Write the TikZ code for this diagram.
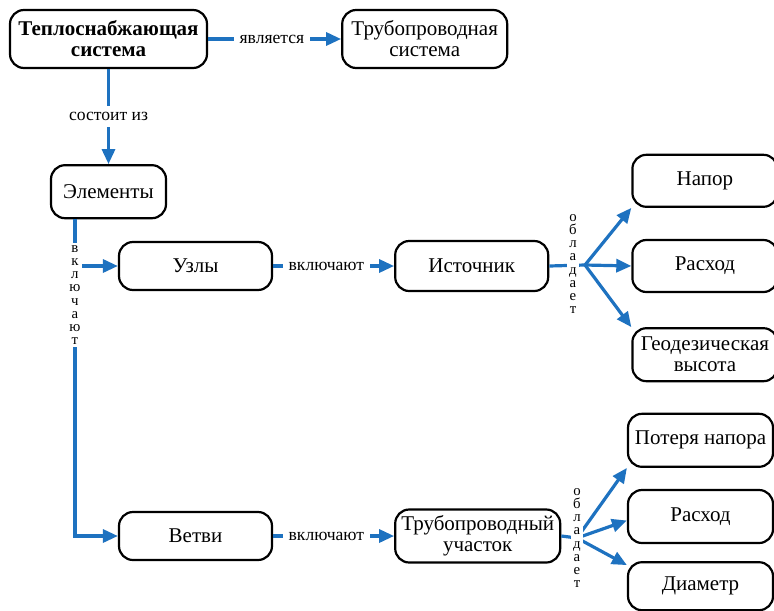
\documentclass[tikz,border=0pt]{standalone}
\usepackage{fontspec}
\setmainfont{Liberation Serif}
\usepackage{xcolor}
\usepackage{tikz}
\usetikzlibrary{arrows.meta,positioning}
\definecolor{flowblue}{RGB}{30,114,192}
\tikzset{
	box/.style={draw, line width=1.1pt, rounded corners=7pt, align=center, inner sep=2pt,
		font=\fontsize{10.5}{10.5}\selectfont},
	arrow/.style={-{Triangle[length=7.5pt,width=6.5pt]}, line width=1.6pt, draw=flowblue},
	link/.style={line width=1.6pt, draw=flowblue},
	lbl/.style={fill=white, inner sep=3pt, font=\fontsize{8.8}{10}\selectfont},
	vlbl/.style={fill=white, inner sep=1pt, align=center, font=\fontsize{7.4}{6.6}\selectfont}
}

\begin{document}
\begin{tikzpicture}[x=0.5pt, y=-0.5pt]
	\useasboundingbox (0,0) rectangle (774,610);

	%% -- top row
	\node[box, minimum width=98.5pt, minimum height=29pt, font=\fontsize{10.5}{10.5}\selectfont\bfseries]
	(teplo) at (108.5,39) {Теплоснабжающая\\система};
	\node[box, minimum width=82.5pt, minimum height=29pt, right=66.5pt of teplo]
	(truba) {Трубопроводная\\система};

	\node[box, minimum width=57.5pt, minimum height=26.5pt, below=47.5pt of teplo]
	(elem) {Элементы};
	\coordinate (trunk) at ([xshift=12.5pt]elem.south west);

	%% -- nodes row
	\node[box, minimum width=76.5pt, minimum height=24pt] (uzly) at (195.5,266) {Узлы};
	\node[box, minimum width=76.5pt, minimum height=25pt, right=60.5pt of uzly]
	(istochnik) {Источник};
	\node[box, minimum width=72.5pt, minimum height=26pt, right=41pt of istochnik]
	(rashod1) {Расход};
	\node[box, minimum width=72.5pt, minimum height=26pt, above=15.5pt of rashod1]
	(napor) {Напор};
	\node[box, minimum width=72.5pt, minimum height=26.5pt, below=17pt of rashod1]
	(geo) {Геодезическая\\высота};

	%% -- branches row
	\node[box, minimum width=76.5pt, minimum height=24pt] (vetvi) at (195.5,536) {Ветви};
	\node[box, minimum width=82.5pt, minimum height=26.5pt, right=60.5pt of vetvi]
	(uchastok) {Трубопроводный\\участок};
	\node[box, minimum width=72.5pt, minimum height=26.5pt] (rashod2) at (700.5,516.5) {Расход};
	\node[box, minimum width=72.5pt, minimum height=26.5pt, above=10.5pt of rashod2]
	(poterya) {Потеря напора};
	\node[box, minimum width=72.5pt, minimum height=24pt, below=8.5pt of rashod2]
	(diametr) {Диаметр};

	%% -- top connectors
	\draw[arrow] (teplo) -- node[lbl, pos=0.48] {является} (truba);
	\draw[arrow] (teplo.south) -- node[lbl] {состоит из} (teplo.south |- elem.north);

	%% -- trunk with the two branches
	\draw[arrow] (trunk) |- (vetvi.west);
	\draw[arrow] (trunk |- uzly.west) -- (uzly.west);
	\node[vlbl] (vkl1) at (trunk |- 0,295) {в\\к\\л\\ю\\ч\\а\\ю\\т};

	\draw[arrow] (uzly) -- node[lbl, pos=0.44] {включают} (istochnik);
	\draw[arrow] (vetvi) -- node[lbl, pos=0.44] {включают} (uchastok);

	%% -- properties of the source
	\coordinate (f1) at (585,265);
	\draw[link] (istochnik.east) -- (f1);
	\draw[arrow] (f1) -- (napor.south west);
	\draw[arrow] (f1) -- (rashod1.west);
	\draw[arrow] (f1) -- (geo.north west);
	\node[vlbl] (obl1) at (573,264) {о\\б\\л\\а\\д\\а\\е\\т};

	%% -- properties of the pipe section
	\coordinate (f2) at (577,538);
	\draw[link] (uchastok.east) -- (f2);
	\draw[arrow] (f2) -- (poterya.south west);
	\draw[arrow] (f2) -- ([yshift=-2pt]rashod2.west);
	\draw[arrow] (f2) -- ([yshift=-2pt]diametr.north west);
	\node[vlbl] (obl2) at (f2) {о\\б\\л\\а\\д\\а\\е\\т};

\end{tikzpicture}
\end{document}
